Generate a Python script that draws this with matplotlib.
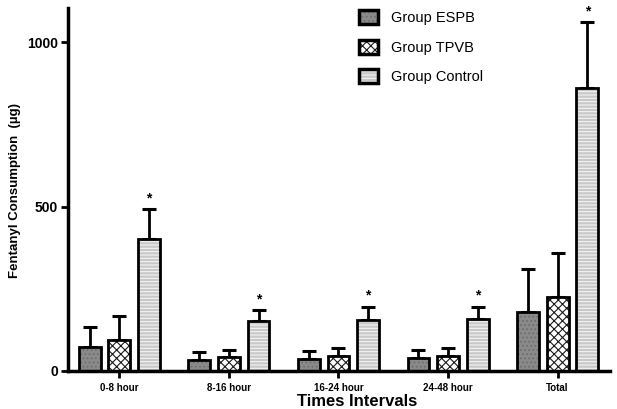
import matplotlib

matplotlib.use("Agg")
import matplotlib.pyplot as plt
import numpy as np
from matplotlib.legend_handler import HandlerTuple
from matplotlib.patches import Patch

plt.rcParams["font.family"] = ["Liberation Sans", "DejaVu Sans"]
plt.rcParams["hatch.linewidth"] = 0.8

intervals = ["0-8 hour", "8-16 hour", "16-24 hour", "24-48 hour", "Total"]
groups = ["Group ESPB", "Group TPVB", "Group Control"]

espb_mean = [73, 33, 36, 40, 180]
espb_sd = [61, 25, 25, 24, 130]
tpvb_mean = [94, 42, 45, 45, 225]
tpvb_sd = [73, 22, 25, 25, 134]
control_mean = [401, 152, 155, 158, 860]
control_sd = [91, 33, 40, 37, 200]
significant = [True, True, True, True, True]

means = [espb_mean, tpvb_mean, control_mean]
sds = [espb_sd, tpvb_sd, control_sd]

# face colour, hatch, hatch colour per group
styles = [
    ("#8a8a8a", "....", "#6e6e6e"),
    ("#ffffff", "xxxx", "#1a1a1a"),
    ("#c8c8c8", "-----", "#f4f4f4"),
]

fig = plt.figure(figsize=(6.17, 4.09), dpi=100)
ax = fig.add_axes([0.110, 0.093, 0.879, 0.887])

x = np.arange(len(intervals))
pitch = 0.27
width = 0.2

handles = []
for i, (vals, err) in enumerate(zip(means, sds)):
    face, hatch, hcol = styles[i]
    pos = x + (i - 1) * pitch
    ax.bar(pos, vals, width, color=face, hatch=hatch, edgecolor=hcol,
           linewidth=0, zorder=2)
    ax.bar(pos, vals, width, fill=False, edgecolor="black", linewidth=2,
           zorder=3)
    ax.errorbar(pos, vals, yerr=[np.zeros(len(vals)), err], fmt="none",
                ecolor="black", elinewidth=2, capsize=5, capthick=2.2,
                zorder=1)
    handles.append((
        Patch(facecolor=face, hatch=hatch, edgecolor=hcol, linewidth=0),
        Patch(fill=False, edgecolor="black", linewidth=2.5),
    ))

# asterisks over the control bars
for xi, m, s, sig in zip(x, control_mean, control_sd, significant):
    if sig:
        ax.text(xi + pitch, m + s + 12, "*", ha="center", va="bottom",
                fontsize=10, fontweight="bold")

ax.set_xlim(-0.47, 4.48)
ax.set_ylim(0, 1103)
ax.set_yticks([0, 500, 1000])
ax.set_xticks(x)
ax.set_xticklabels(intervals, fontsize=7, fontweight="bold")
for lab in ax.get_yticklabels():
    lab.set_fontweight("bold")
    lab.set_fontsize(10)
ax.tick_params(axis="x", length=5, width=2, pad=4)
ax.tick_params(axis="y", length=5, width=2, pad=2)

for side in ["top", "right"]:
    ax.spines[side].set_visible(False)
for side in ["left", "bottom"]:
    ax.spines[side].set_linewidth(2.5)

fig.text(15 / 617, 1 - 190 / 409, "Fentanyl Consumption  (µg)", rotation=90,
         ha="center", va="center", fontsize=9.5, fontweight="bold")
fig.text(357 / 617, 1 - 394 / 409, "Times Intervals", ha="center", va="top",
         fontsize=12, fontweight="bold")

fig.legend(handles, groups, loc="upper left",
           bbox_to_anchor=(359 / 617, 1 - 10 / 409), frameon=False,
           fontsize=10.5, handlelength=1.3, handleheight=1.1,
           labelspacing=1.0, handletextpad=0.9, borderpad=0,
           borderaxespad=0,
           handler_map={tuple: HandlerTuple(ndivide=1)})

fig.savefig("out.png", dpi=100)
